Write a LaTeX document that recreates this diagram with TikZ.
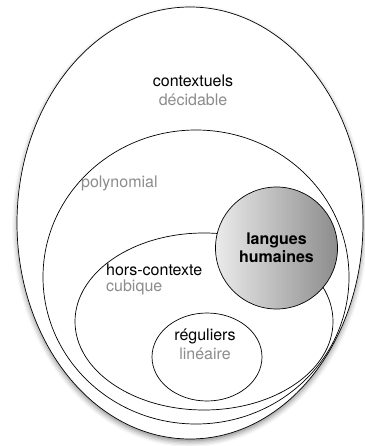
\documentclass[tikz,border=0pt]{standalone}
\usepackage{fontspec}
\setmainfont{TeX Gyre Heros}
\usetikzlibrary{shapes.geometric,shadows.blur}
\definecolor{soft}{HTML}{8C8C8C}
\tikzset{
  set/.style={ellipse, draw=black, line width=0.7pt, inner sep=0pt},
  lbl/.style={font=\fontsize{16}{18}\selectfont, inner sep=0pt, anchor=base},
  sub/.style={lbl, text=soft},
}
\begin{document}
\begin{tikzpicture}[x=1pt, y=-1pt]
  \useasboundingbox (0,0) rectangle (364,446);
  % nested language classes
  \node[set, fill=white, minimum width=346pt, minimum height=432pt,
        blur shadow={shadow xshift=0pt, shadow yshift=-3pt, shadow blur radius=5pt, shadow opacity=45}]
        (ctx) at (190,223) {};
  \node[set, minimum width=306pt, minimum height=294pt] (poly) at (196,277) {};
  \node[set, minimum width=258pt, minimum height=177pt] (cf) at (204,321.5) {};
  \node[set, minimum width=110pt, minimum height=88pt] (reg) at (207,357) {};
  % human languages
  \node[circle, draw=black, line width=0.7pt, minimum size=122pt, inner sep=0pt,
        left color=black!8, right color=black!45] (hum) at (276.5,248) {};
  % labels
  \node[lbl] (tctx) at (193,87) {contextuels};
  \node[sub] (sctx) at (193,106) {décidable};
  \node[sub, anchor=base west] (spoly) at (81,188) {polynomial};
  \node[lbl, font=\fontsize{16}{18}\bfseries\selectfont] (thum1) at (276.5,244) {langues};
  \node[lbl, font=\fontsize{16}{18}\bfseries\selectfont] (thum2) at (276.5,262) {humaines};
  \node[lbl, anchor=base west] (tcf) at (106,275) {hors-contexte};
  \node[sub, anchor=base west] (scf) at (106,291) {cubique};
  \node[lbl] (treg) at (205,340) {réguliers};
  \node[sub] (sreg) at (205,359) {linéaire};
\end{tikzpicture}
\end{document}
